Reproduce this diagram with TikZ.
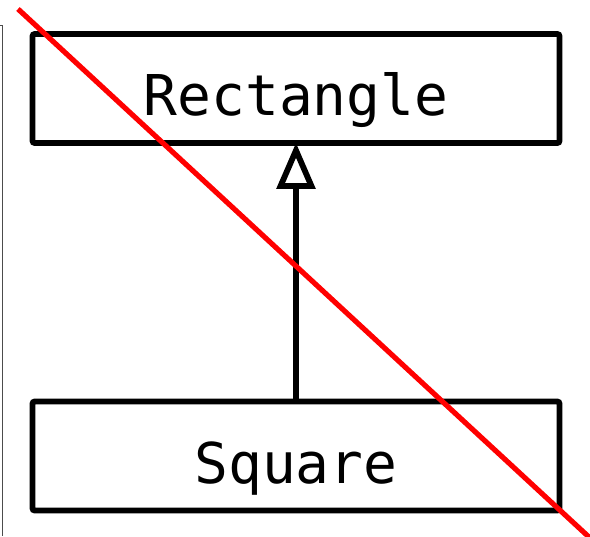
\documentclass[tikz,border=0pt]{standalone}
\usepackage{fontspec}
\setmonofont{DejaVu Sans Mono}
\usetikzlibrary{arrows.meta}
\begin{document}
\begin{tikzpicture}[x=0.5mm, y=-0.5mm,
  every node/.style={font=\ttfamily\fontsize{80}{96}\selectfont},
  classbox/.style={draw, line width=2.8mm, rounded corners=1mm, inner sep=0pt,
    minimum width=263.5mm, minimum height=54.5mm, text height=30mm, text depth=3mm}]
\useasboundingbox (0,0) rectangle (590,536);
% Edge of the frame at the left
\draw[black!70, line width=0.5mm] (0,25) -- (2.5,25) -- (2.5,536);
% Classes
\node[classbox] (recbox) at (296,88.5) {Rectangle};
\node[classbox] (sqbox) at (296,456) {Square};
% Inheritance arrow
\draw[-{Triangle[open, length=23mm, width=19mm]}, line width=2.9mm, shorten >=-1.5mm] (sqbox.north) -- (recbox.south);
% Crossed out
\draw[red, line width=2.6mm] (18,9) -- (590,538);
\end{tikzpicture}
\end{document}
